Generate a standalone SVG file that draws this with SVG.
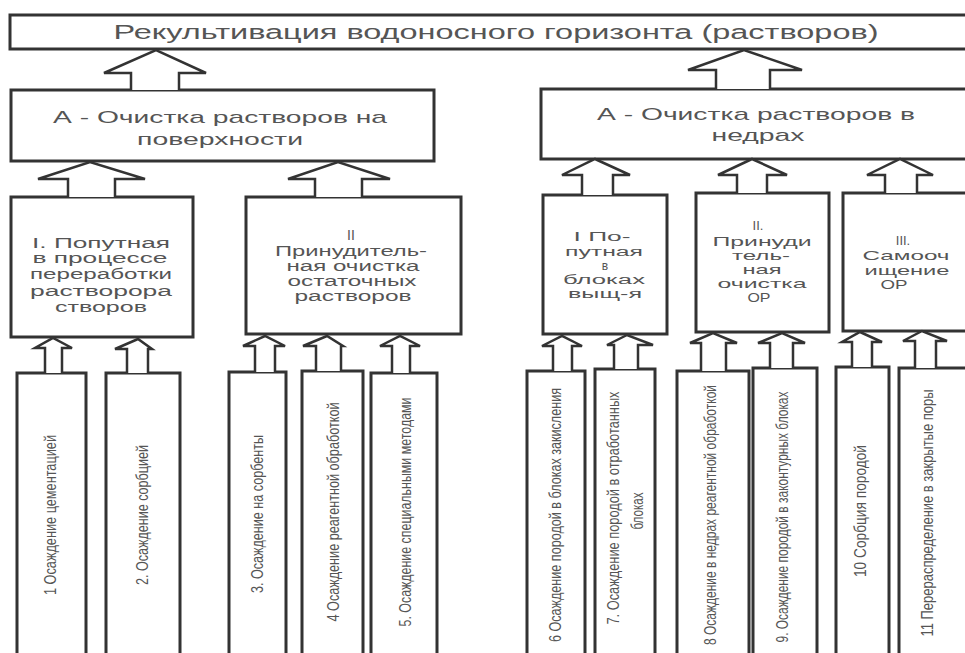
<svg xmlns="http://www.w3.org/2000/svg" width="965" height="653" viewBox="0 0 965 653">
<style>
.box{fill:#fff;stroke:#333;stroke-width:3}
.arr{fill:#fff;stroke:#333;stroke-width:2.5;stroke-linejoin:miter}
.t{font-family:"Liberation Sans",Arial,sans-serif;fill:#555;text-anchor:middle}
.h{font-size:17px}
.m{font-size:14px}
.s{font-size:13px}
.xs{font-size:12px}
.v{font-size:17px;dominant-baseline:central}
</style>
<rect x="0" y="0" width="965" height="653" fill="#fff"/>

<g id="title">
<rect class="box" x="10" y="15" width="965" height="34"/>
<text class="t" x="496" y="39" font-size="20" textLength="765" lengthAdjust="spacingAndGlyphs">Рекультивация  водоносного горизонта (растворов)</text>
</g>

<g id="A-surface">
<rect class="box" x="11" y="90" width="423" height="71"/>
<text class="t h" x="220" y="123" textLength="334" lengthAdjust="spacingAndGlyphs">А -  Очистка растворов на</text>
<text class="t h" x="220" y="145" textLength="166" lengthAdjust="spacingAndGlyphs">поверхности</text>
</g>

<g id="A-subsoil">
<rect class="box" x="541" y="89" width="440" height="70"/>
<text class="t h" x="756" y="120" textLength="318" lengthAdjust="spacingAndGlyphs">А -  Очистка растворов в</text>
<text class="t h" x="758" y="141" textLength="93" lengthAdjust="spacingAndGlyphs">недрах</text>
</g>

<g id="L-I">
<rect class="box" x="11" y="197" width="182" height="140"/>
<text class="t m" x="101" y="248" textLength="138" lengthAdjust="spacingAndGlyphs">I. Попутная</text>
<text class="t m" x="100" y="263" textLength="135" lengthAdjust="spacingAndGlyphs">в процессе</text>
<text class="t m" x="101" y="279" textLength="142" lengthAdjust="spacingAndGlyphs">переработки</text>
<text class="t m" x="101" y="296" textLength="142" lengthAdjust="spacingAndGlyphs">растворора</text>
<text class="t m" x="101" y="312" textLength="92" lengthAdjust="spacingAndGlyphs">створов</text>
</g>

<g id="L-II">
<rect class="box" x="246" y="197" width="215" height="137"/>
<text class="t m" x="351" y="240">II</text>
<text class="t m" x="351" y="256" textLength="152" lengthAdjust="spacingAndGlyphs">Принудитель-</text>
<text class="t m" x="353" y="271" textLength="133" lengthAdjust="spacingAndGlyphs">ная очистка</text>
<text class="t m" x="352" y="286" textLength="129" lengthAdjust="spacingAndGlyphs">остаточных</text>
<text class="t m" x="353" y="301" textLength="117" lengthAdjust="spacingAndGlyphs">растворов</text>
</g>

<g id="R-I">
<rect class="box" x="543" y="195" width="124" height="139"/>
<text class="t xs" x="602" y="241" textLength="57" lengthAdjust="spacingAndGlyphs">I  По-</text>
<text class="t xs" x="604" y="256" textLength="78" lengthAdjust="spacingAndGlyphs">путная</text>
<text class="t xs" x="605" y="270">в</text>
<text class="t xs" x="604" y="284" textLength="82" lengthAdjust="spacingAndGlyphs">блоках</text>
<text class="t xs" x="605" y="298" textLength="74" lengthAdjust="spacingAndGlyphs">выщ-я</text>
</g>

<g id="R-II">
<rect class="box" x="696" y="193" width="133" height="139"/>
<text class="t s" x="758" y="230">II.</text>
<text class="t s" x="762" y="246" textLength="99" lengthAdjust="spacingAndGlyphs">Принуди</text>
<text class="t s" x="761" y="260" textLength="58" lengthAdjust="spacingAndGlyphs">тель-</text>
<text class="t s" x="762" y="274" textLength="39" lengthAdjust="spacingAndGlyphs">ная</text>
<text class="t s" x="762" y="288" textLength="89" lengthAdjust="spacingAndGlyphs">очистка</text>
<text class="t s" x="759" y="302" textLength="23" lengthAdjust="spacingAndGlyphs">ОР</text>
</g>

<g id="R-III">
<rect class="box" x="843" y="193" width="140" height="138"/>
<text class="t s" x="903" y="245">III.</text>
<text class="t s" x="906" y="260" textLength="87" lengthAdjust="spacingAndGlyphs">Самооч</text>
<text class="t s" x="907" y="275" textLength="85" lengthAdjust="spacingAndGlyphs">ищение</text>
<text class="t s" x="894" y="289" textLength="27" lengthAdjust="spacingAndGlyphs">ОР</text>
</g>

<g id="n1"><rect class="box" x="17" y="373" width="69" height="295"/>
<text class="t v" transform="translate(50,515) rotate(-90)" textLength="160" lengthAdjust="spacingAndGlyphs">1 Осаждение цементацией</text></g>
<g id="n2"><rect class="box" x="106" y="373" width="74" height="295"/>
<text class="t v" transform="translate(142,515) rotate(-90)" textLength="140" lengthAdjust="spacingAndGlyphs">2. Осаждение  сорбцией</text></g>
<g id="n3"><rect class="box" x="229" y="372" width="57" height="295"/>
<text class="t v" transform="translate(257,514) rotate(-90)" textLength="158" lengthAdjust="spacingAndGlyphs">3.  Осаждение  на сорбенты</text></g>
<g id="n4"><rect class="box" x="302" y="371" width="61" height="295"/>
<text class="t v" transform="translate(333,512) rotate(-90)" textLength="219" lengthAdjust="spacingAndGlyphs">4 Осаждение реагентной обработкой</text></g>
<g id="n5"><rect class="box" x="371" y="373" width="66" height="295"/>
<text class="t v" transform="translate(405,512) rotate(-90)" textLength="229" lengthAdjust="spacingAndGlyphs">5. Осаждение специальными методами</text></g>
<g id="n6"><rect class="box" x="527" y="371" width="58" height="295"/>
<text class="t v" transform="translate(555,515) rotate(-90)" textLength="254" lengthAdjust="spacingAndGlyphs">6 Осаждение породой в блоках закисления</text></g>
<g id="n7"><rect class="box" x="595" y="369" width="60" height="295"/>
<text class="t v" transform="translate(613,508) rotate(-90)" textLength="233" lengthAdjust="spacingAndGlyphs">7. Осаждение  породой  в отработанных</text>
<text class="t v" transform="translate(637,511) rotate(-90)" textLength="37" lengthAdjust="spacingAndGlyphs">блоках</text></g>
<g id="n8"><rect class="box" x="677" y="371" width="72" height="295"/>
<text class="t v" transform="translate(710,515) rotate(-90)" textLength="260" lengthAdjust="spacingAndGlyphs">8 Осаждение в недрах реагентной обработкой</text></g>
<g id="n9"><rect class="box" x="753" y="368" width="64" height="295"/>
<text class="t v" transform="translate(782,517) rotate(-90)" textLength="251" lengthAdjust="spacingAndGlyphs">9. Осаждение  породой  в законтурных блоках</text></g>
<g id="n10"><rect class="box" x="836" y="367" width="53" height="295"/>
<text class="t v" transform="translate(860,511) rotate(-90)" textLength="132" lengthAdjust="spacingAndGlyphs">10  Сорбция породой</text></g>
<g id="n11"><rect class="box" x="899" y="368" width="80" height="295"/>
<text class="t v" transform="translate(927,513) rotate(-90)" textLength="247" lengthAdjust="spacingAndGlyphs">11 Перераспределение  в закрытые поры</text></g>

<g id="connectors">
<polyline class="arr" points="131,90 131,73 104,73 156,50 206,73 179,73 179,90"/>
<polyline class="arr" points="716,89 716,70 688,70 744,50 802,70 770,70 770,89"/>
<polyline class="arr" points="68,197 68,179 38,179 90,162 145,179 115,179 115,197"/>
<polyline class="arr" points="315,197 315,179 288,179 338,162 390,179 362,179 362,197"/>
<polyline class="arr" points="582,195 582,175 562,175 595,159 630,175 613,175 613,195"/>
<polyline class="arr" points="737,193 737,175 718,175 752,159 787,175 767,175 767,193"/>
<polyline class="arr" points="885,193 885,175 867,175 900,159 933,175 917,175 917,193"/>
<polyline class="arr" points="45,373 45,348 35,348 53,338 72,348 62,348 62,373"/>
<polyline class="arr" points="127,373 127,349 115,349 138,339 152,349 148,349 148,373"/>
<polyline class="arr" points="255,372 255,346 243,346 265,336 285,346 275,346 275,372"/>
<polyline class="arr" points="316,371 316,346 303,346 327,336 343,346 341,346 341,371"/>
<polyline class="arr" points="392,373 392,346 380,346 400,336 420,346 410,346 410,373"/>
<polyline class="arr" points="553,371 553,346 542,346 562,336 582,346 572,346 572,371"/>
<polyline class="arr" points="614,369 614,345 607,345 627,335 653,345 638,345 638,369"/>
<polyline class="arr" points="701,371 701,343 690,343 713,333 737,343 726,343 726,371"/>
<polyline class="arr" points="770,368 770,343 758,343 782,333 805,343 793,343 793,368"/>
<polyline class="arr" points="852,367 852,342 842,342 860,332 882,342 872,342 872,367"/>
<polyline class="arr" points="915,368 915,341 903,341 922,331 947,341 936,341 936,368"/>
</g>
</svg>
